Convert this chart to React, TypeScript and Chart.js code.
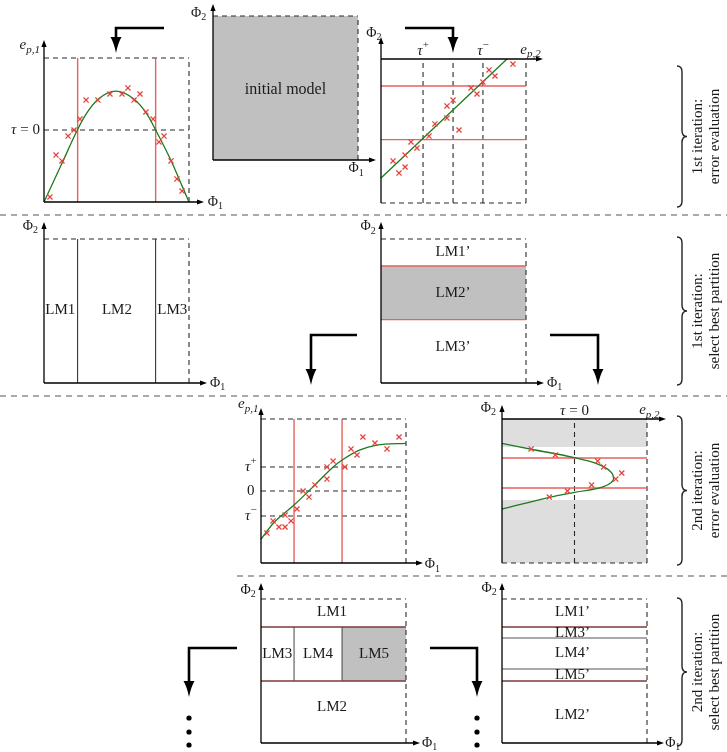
import React, { useEffect, useRef } from 'react';
import { Chart, registerables } from 'chart.js';
Chart.register(...registerables);

const W = 727, H = 752, BW = 145, BH = 144;
const SERIF = '"Liberation Serif", "DejaVu Serif", serif';
const RED_LINE = '#e8615c', RED_X = '#e5443d', GREEN = '#1f7a1f', BROWN = '#7d3a3a';
const GRAY_FILL = '#c0c0c0', BAND = '#dedede', DASH = '#2a2a2a', GRAY_LINE = '#8c8c8c';

// ---------- data ----------
// 1st iteration, error e_{p,1} over Φ1
const p1CrossX = [0.41, 0.83, 1.24, 1.66, 2.07, 2.48, 2.9, 3.72, 4.55, 5.38, 5.79, 6.21, 6.62, 7.03, 7.52, 7.93, 8.28, 8.76, 9.17, 9.52];
const p1CrossY = [0.35, 3.26, 2.85, 4.58, 5.0, 5.76, 7.08, 7.08, 7.5, 7.5, 7.92, 7.08, 7.5, 6.25, 5.76, 4.17, 4.58, 2.85, 1.6, 0.76];
const p1CurveX = [0, 1.2, 2.3, 2.9, 3.75, 4.95, 6.2, 7.1, 7.7, 8.75, 9.55, 10];
const p1CurveY = [0, 2.6, 5.0, 6.1, 7.15, 7.7, 7.15, 6.1, 5.0, 2.9, 1.05, 0];
const p1Tau = [5.0];
const firstSplitsPhi1 = [2.32, 7.7];

// 1st iteration, error e_{p,2} over Φ2
const p3CrossX = [0.83, 1.24, 1.66, 1.66, 2.07, 2.48, 3.31, 3.72, 4.55, 4.55, 4.97, 5.38, 6.21, 6.62, 7.03, 7.45, 7.86, 9.1];
const p3CrossY = [2.92, 2.08, 3.33, 2.5, 4.24, 3.82, 4.65, 5.49, 5.9, 6.74, 7.15, 5.07, 7.99, 7.57, 8.4, 9.24, 8.82, 9.65];
const p3FitX = [0, 8.69];
const p3FitY = [1.74, 10];
const p3TauX = [2.9, 4.97, 7.03];
const firstSplitsPhi2 = [4.4, 8.125];

// 2nd iteration, error e_{p,1}
const p6CrossX = [0.41, 0.83, 1.24, 1.66, 1.66, 2.07, 2.48, 2.9, 3.31, 3.72, 4.55, 4.55, 4.97, 5.79, 6.21, 6.62, 7.03, 7.86, 8.69, 9.52];
const p6CrossY = [2.08, 2.92, 2.5, 2.5, 3.33, 2.92, 3.75, 5.0, 4.58, 5.42, 5.83, 6.67, 7.08, 6.67, 7.92, 7.5, 8.75, 8.33, 7.92, 8.75];
const p6CurveX = [0, 0.85, 2.28, 3.72, 5.0, 5.6, 6.83, 7.98, 10];
const p6CurveY = [1.65, 2.76, 4.03, 5.42, 6.69, 7.15, 7.85, 8.19, 8.31];
const p6TauY = [6.67, 5.0, 3.26];
const secondSplitsPhi1 = [2.28, 5.59];

// 2nd iteration, error e_{p,2}
const p7CrossX = [2.01, 3.68, 6.6, 7.01, 7.85, 8.26, 6.18, 4.51, 3.26];
const p7CrossY = [7.92, 7.5, 7.08, 6.67, 5.83, 6.25, 5.42, 5.0, 4.58];
const p7CurveX = [0, 2.03, 5.0, 7.0, 7.7, 7.0, 5.0, 3.28, 0];
const p7CurveY = [8.31, 7.9, 7.31, 6.69, 5.88, 5.3, 4.91, 4.56, 3.75];
const p7BandY = [4.375, 8.06];
const secondSplitsPhi2 = [5.21, 7.29];
const p7TauX = [5.0];

// partitions, 2nd iteration
const p8Rows = [4.31, 8.06];
const p9Rows = [4.31, 8.06];
const p9SubRows = [5.14, 7.29];

// ---------- helpers ----------
type Seg = { s: string; i?: boolean; sub?: string; sup?: string };
type Label = { segs: Seg[]; x: number; y: number; align?: 'left' | 'center' | 'right'; size?: number };

function drawSegs(ctx: CanvasRenderingContext2D, segs: Seg[], x: number, y: number, align = 'center', size = 15) {
  const small = Math.round(size * 0.72);
  const pieces: { t: string; f: string; dy: number; w: number }[] = [];
  for (const g of segs) {
    const f = `${g.i ? 'italic ' : ''}${size}px ${SERIF}`;
    ctx.font = f;
    pieces.push({ t: g.s, f, dy: 0, w: ctx.measureText(g.s).width });
    if (g.sub) {
      const fs = `${g.i ? 'italic ' : ''}${small}px ${SERIF}`;
      ctx.font = fs;
      pieces.push({ t: g.sub, f: fs, dy: size * 0.32, w: ctx.measureText(g.sub).width + 1 });
    }
    if (g.sup) {
      const fs = `${small}px ${SERIF}`;
      ctx.font = fs;
      pieces.push({ t: g.sup, f: fs, dy: -size * 0.4, w: ctx.measureText(g.sup).width });
    }
  }
  const total = pieces.reduce((a, p) => a + p.w, 0);
  let cx = align === 'center' ? x - total / 2 : align === 'right' ? x - total : x;
  ctx.textBaseline = 'middle';
  ctx.textAlign = 'left';
  ctx.fillStyle = '#1a1a1a';
  for (const p of pieces) {
    ctx.font = p.f;
    ctx.fillText(p.t, cx, y + p.dy);
    cx += p.w;
  }
}

const pts = (xs: number[], ys: number[]) => xs.map((x, i) => ({ x, y: ys[i] }));
const seg = (xs: number[], ys: number[], color: string, width = 1, dash: number[] = [], order = 5) => ({
  data: pts(xs, ys), borderColor: color, borderWidth: width, borderDash: dash,
  pointRadius: 0, fill: false, tension: 0, order, clip: false,
});
const vlines = (xs: number[], y0: number, y1: number, color: string, width = 1, dash: number[] = []) =>
  xs.map((x) => seg([x, x], [y0, y1], color, width, dash));
const hlines = (ys: number[], x0: number, x1: number, color: string, width = 1, dash: number[] = []) =>
  ys.map((y) => seg([x0, x1], [y, y], color, width, dash));
const band = (x0: number, x1: number, y0: number, y1: number, color: string) => ({
  data: pts([x0, x1], [y1, y1]), fill: { value: y0 }, backgroundColor: color,
  borderWidth: 0, borderColor: 'rgba(0,0,0,0)', pointRadius: 0, order: 20, clip: false,
});
const crosses = (xs: number[], ys: number[]) => ({
  data: pts(xs, ys), showLine: false, pointStyle: 'crossRot', pointRadius: 3.6,
  pointBorderColor: RED_X, pointBorderWidth: 1.3, borderColor: RED_X, order: 0, clip: false,
});
const curve = (xs: number[], ys: number[], monotone = true) => ({
  data: pts(xs, ys), borderColor: GREEN, borderWidth: 1.3, tension: 0.4,
  cubicInterpolationMode: monotone ? 'monotone' : 'default',
  pointRadius: 0, fill: false, order: 1, clip: false,
});
const DASHES = [5, 4];
const boxTopRight = () => [
  ...hlines([10], 0, 10, DASH, 1.1, DASHES),
  ...vlines([10], 0, 10, DASH, 1.1, DASHES),
];
const boxBottomRight = () => [
  ...hlines([0], 0, 10, DASH, 1.1, DASHES),
  ...vlines([10], 0, 10, DASH, 1.1, DASHES),
];

const PHI1: Seg[] = [{ s: 'Φ', sub: '1' }];
const PHI2: Seg[] = [{ s: 'Φ', sub: '2' }];
const EP1: Seg[] = [{ s: 'e', i: true, sub: 'p,1' }];
const EP2: Seg[] = [{ s: 'e', i: true, sub: 'p,2' }];
const TAU0: Seg[] = [{ s: 'τ', i: true }, { s: ' = 0' }];
const TAUP: Seg[] = [{ s: 'τ', i: true, sup: '+' }];
const TAUM: Seg[] = [{ s: 'τ', i: true, sup: '−' }];
const txt = (s: string): Seg[] => [{ s }];

type PanelSpec = {
  left: number; top: number; xAxisAt: number; yExt: number; xExt: number;
  datasets: any[]; labels: Label[];
};

function arrowHead(ctx: CanvasRenderingContext2D, x: number, y: number, dir: 'up' | 'right' | 'down', len: number, hw: number) {
  ctx.beginPath();
  if (dir === 'up') { ctx.moveTo(x, y); ctx.lineTo(x - hw, y + len); ctx.lineTo(x + hw, y + len); }
  else if (dir === 'down') { ctx.moveTo(x, y); ctx.lineTo(x - hw, y - len); ctx.lineTo(x + hw, y - len); }
  else { ctx.moveTo(x, y); ctx.lineTo(x - len, y - hw); ctx.lineTo(x - len, y + hw); }
  ctx.closePath();
  ctx.fill();
}

const panelPlugin = (spec: PanelSpec) => ({
  id: 'panelDecor',
  afterDatasetsDraw(chart: any) {
    const { ctx, scales: { x, y } } = chart;
    ctx.save();
    ctx.strokeStyle = '#000'; ctx.fillStyle = '#000'; ctx.lineWidth = 1.3; ctx.setLineDash([]);
    const x0 = x.getPixelForValue(0), xr = x.getPixelForValue(10);
    const yb = y.getPixelForValue(0), yt = y.getPixelForValue(10);
    const ya = y.getPixelForValue(spec.xAxisAt);
    const yTip = yt - spec.yExt, xTip = xr + spec.xExt;
    ctx.beginPath(); ctx.moveTo(x0, yb); ctx.lineTo(x0, yTip + 4); ctx.stroke();
    arrowHead(ctx, x0, yTip, 'up', 7, 2.6);
    ctx.beginPath(); ctx.moveTo(x0, ya); ctx.lineTo(xTip - 4, ya); ctx.stroke();
    arrowHead(ctx, xTip, ya, 'right', 7, 2.6);
    for (const l of spec.labels) {
      drawSegs(ctx, l.segs, x.getPixelForValue(l.x), y.getPixelForValue(l.y), l.align || 'center', l.size || 15);
    }
    ctx.restore();
  },
});

const PANELS: PanelSpec[] = [
  { // 1st iteration error e_{p,1}
    left: 44, top: 58, xAxisAt: 0, yExt: 18, xExt: 15,
    datasets: [
      crosses(p1CrossX, p1CrossY), curve(p1CurveX, p1CurveY),
      ...vlines(firstSplitsPhi1, 0, 10, RED_LINE, 1.4),
      ...hlines(p1Tau, 0, 10, DASH, 1.1, DASHES), ...boxTopRight(),
    ],
    labels: [
      { segs: EP1, x: -0.95, y: 10.9 }, { segs: TAU0, x: -0.28, y: 5.0, align: 'right' },
      { segs: PHI1, x: 11.3, y: 0, align: 'left', size: 14 },
    ],
  },
  { // initial model
    left: 213, top: 16, xAxisAt: 0, yExt: 12, xExt: 18,
    datasets: [band(0, 10, 0, 10, GRAY_FILL), ...boxTopRight()],
    labels: [
      { segs: PHI2, x: -0.95, y: 10.2, size: 14 }, { segs: PHI1, x: 9.9, y: -0.6, size: 14 },
      { segs: txt('initial model'), x: 5.0, y: 4.86, size: 16 },
    ],
  },
  { // 1st iteration error e_{p,2}
    left: 381, top: 59, xAxisAt: 10, yExt: 22, xExt: 17,
    datasets: [
      crosses(p3CrossX, p3CrossY), curve(p3FitX, p3FitY),
      ...hlines(firstSplitsPhi2, 0, 10, RED_LINE, 1.4),
      ...vlines(p3TauX, 0, 10, DASH, 1.1, DASHES), ...boxBottomRight(),
    ],
    labels: [
      { segs: PHI2, x: -0.45, y: 11.8, size: 14 }, { segs: TAUP, x: 2.9, y: 10.55 },
      { segs: TAUM, x: 7.03, y: 10.55 }, { segs: EP2, x: 10.35, y: 10.65 },
    ],
  },
  { // LM1..LM3
    left: 44, top: 239, xAxisAt: 0, yExt: 17, xExt: 18,
    datasets: [...vlines(firstSplitsPhi1, 0, 10, '#222', 1), ...boxTopRight()],
    labels: [
      { segs: PHI2, x: -0.9, y: 10.9, size: 14 }, { segs: PHI1, x: 11.45, y: 0, align: 'left', size: 14 },
      { segs: txt('LM1'), x: 1.12, y: 5.07 }, { segs: txt('LM2'), x: 5.03, y: 5.07 }, { segs: txt('LM3'), x: 8.85, y: 5.07 },
    ],
  },
  { // LM1'..LM3'
    left: 381, top: 239, xAxisAt: 0, yExt: 17, xExt: 18,
    datasets: [
      band(0, 10, firstSplitsPhi2[0], firstSplitsPhi2[1], GRAY_FILL),
      ...hlines(firstSplitsPhi2, 0, 10, RED_LINE, 1.4), ...boxTopRight(),
    ],
    labels: [
      { segs: PHI2, x: -0.85, y: 10.85, size: 14 }, { segs: PHI1, x: 11.45, y: 0, align: 'left', size: 14 },
      { segs: txt('LM1’'), x: 4.97, y: 9.1 }, { segs: txt('LM2’'), x: 4.97, y: 6.25 }, { segs: txt('LM3’'), x: 4.97, y: 2.5 },
    ],
  },
  { // 2nd iteration error e_{p,1}
    left: 261, top: 419, xAxisAt: 0, yExt: 11, xExt: 17,
    datasets: [
      crosses(p6CrossX, p6CrossY), curve(p6CurveX, p6CurveY),
      ...vlines(secondSplitsPhi1, 0, 10, RED_LINE, 1.4),
      ...hlines(p6TauY, 0, 10, DASH, 1.1, DASHES), ...boxTopRight(),
    ],
    labels: [
      { segs: EP1, x: -0.85, y: 11.05 }, { segs: TAUP, x: -0.7, y: 6.67 },
      { segs: txt('0'), x: -0.7, y: 5.0 }, { segs: TAUM, x: -0.7, y: 3.26 },
      { segs: PHI1, x: 11.3, y: -0.1, align: 'left', size: 14 },
    ],
  },
  { // 2nd iteration error e_{p,2}
    left: 502, top: 419, xAxisAt: 10, yExt: 14, xExt: 19,
    datasets: [
      crosses(p7CrossX, p7CrossY), curve(p7CurveX, p7CurveY, false),
      ...hlines(secondSplitsPhi2, 0, 10, RED_LINE, 1.4),
      ...vlines(p7TauX, 0, 10, DASH, 1.1, DASHES), ...boxBottomRight(),
      band(0, 10, p7BandY[1], 10, BAND), band(0, 10, 0, p7BandY[0], BAND),
    ],
    labels: [
      { segs: PHI2, x: -0.9, y: 10.75, size: 14 }, { segs: TAU0, x: 5.0, y: 10.55 },
      { segs: EP2, x: 10.2, y: 10.6 },
    ],
  },
  { // LM1..LM5
    left: 261, top: 599, xAxisAt: 0, yExt: 16, xExt: 14,
    datasets: [
      band(secondSplitsPhi1[1], 10, p8Rows[0], p8Rows[1], GRAY_FILL),
      ...hlines(p8Rows, 0, 10, BROWN, 1.5),
      ...vlines(secondSplitsPhi1, p8Rows[0], p8Rows[1], '#444', 1), ...boxTopRight(),
    ],
    labels: [
      { segs: PHI2, x: -0.85, y: 10.6, size: 14 }, { segs: PHI1, x: 11.1, y: 0, align: 'left', size: 14 },
      { segs: txt('LM1'), x: 4.9, y: 9.1 }, { segs: txt('LM3'), x: 1.12, y: 6.18 },
      { segs: txt('LM4'), x: 3.93, y: 6.18 }, { segs: txt('LM5'), x: 7.8, y: 6.18 },
      { segs: txt('LM2'), x: 4.9, y: 2.5 },
    ],
  },
  { // LM1'..LM5'
    left: 502, top: 599, xAxisAt: 0, yExt: 16, xExt: 17,
    datasets: [
      ...hlines(p9Rows, 0, 10, BROWN, 1.5), ...hlines(p9SubRows, 0, 10, GRAY_LINE, 1.5), ...boxTopRight(),
    ],
    labels: [
      { segs: PHI2, x: -0.85, y: 10.75, size: 14 }, { segs: PHI1, x: 11.25, y: 0, align: 'left', size: 14 },
      { segs: txt('LM1’'), x: 4.86, y: 9.1 }, { segs: txt('LM3’'), x: 4.86, y: 7.64 },
      { segs: txt('LM4’'), x: 4.86, y: 6.25 }, { segs: txt('LM5’'), x: 4.86, y: 4.72 },
      { segs: txt('LM2’'), x: 4.86, y: 1.94 },
    ],
  },
];

// ---------- frame decorations (layout) ----------
const SEPARATORS: [number, number, number][] = [[0, 727, 215], [0, 727, 396], [237, 727, 576]];
const BIG_ARROWS = [
  { from: 164, corner: 116, y: 28, tip: 53 },
  { from: 405, corner: 453, y: 28, tip: 53 },
  { from: 357, corner: 311, y: 335, tip: 385 },
  { from: 550, corner: 598, y: 335, tip: 385 },
  { from: 237, corner: 189, y: 648, tip: 697 },
  { from: 430, corner: 477, y: 648, tip: 697 },
];
const DOT_COLUMNS = [189, 477];
const DOT_ROWS = [718, 732, 745];
const BRACES = [
  { top: 66, bottom: 207, lines: ['1st iteration:', 'error evaluation'] },
  { top: 237, bottom: 385, lines: ['1st iteration:', 'select best partition'] },
  { top: 416, bottom: 565, lines: ['2nd iteration:', 'error evaluation'] },
  { top: 598, bottom: 746, lines: ['2nd iteration:', 'select best partition'] },
];

const framePlugin = {
  id: 'frame',
  afterDraw(chart: any) {
    const ctx: CanvasRenderingContext2D = chart.ctx;
    ctx.save();
    ctx.strokeStyle = '#555'; ctx.lineWidth = 1.2; ctx.setLineDash([6, 5]);
    for (const [a, b, y] of SEPARATORS) { ctx.beginPath(); ctx.moveTo(a, y); ctx.lineTo(b, y); ctx.stroke(); }
    ctx.setLineDash([]);
    ctx.strokeStyle = '#000'; ctx.fillStyle = '#000'; ctx.lineWidth = 2.6;
    for (const a of BIG_ARROWS) {
      ctx.beginPath(); ctx.moveTo(a.from, a.y); ctx.lineTo(a.corner, a.y); ctx.lineTo(a.corner, a.tip - 12); ctx.stroke();
      ctx.beginPath();
      ctx.moveTo(a.corner, a.tip);
      ctx.quadraticCurveTo(a.corner - 2, a.tip - 10, a.corner - 5.5, a.tip - 16);
      ctx.lineTo(a.corner + 5.5, a.tip - 16);
      ctx.quadraticCurveTo(a.corner + 2, a.tip - 10, a.corner, a.tip);
      ctx.fill();
    }
    for (const cx of DOT_COLUMNS) for (const cy of DOT_ROWS) {
      ctx.beginPath(); ctx.arc(cx, cy, 2.6, 0, Math.PI * 2); ctx.fill();
    }
    ctx.lineWidth = 1.4; ctx.strokeStyle = '#222';
    for (const b of BRACES) {
      const xl = 677, xs = 682, xt = 687, mid = (b.top + b.bottom) / 2;
      ctx.beginPath();
      ctx.moveTo(xl, b.top);
      ctx.quadraticCurveTo(xs, b.top, xs, b.top + 6);
      ctx.lineTo(xs, mid - 6);
      ctx.quadraticCurveTo(xs, mid, xt, mid);
      ctx.quadraticCurveTo(xs, mid, xs, mid + 6);
      ctx.lineTo(xs, b.bottom - 6);
      ctx.quadraticCurveTo(xs, b.bottom, xl, b.bottom);
      ctx.stroke();
      ctx.save();
      ctx.translate(698, mid);
      ctx.rotate(-Math.PI / 2);
      ctx.fillStyle = '#1a1a1a';
      ctx.font = `15px ${SERIF}`;
      ctx.textAlign = 'center'; ctx.textBaseline = 'middle';
      ctx.fillText(b.lines[0], 0, 0);
      ctx.fillText(b.lines[1], 0, 17);
      ctx.restore();
    }
    ctx.restore();
  },
};

function makePanel(canvas: HTMLCanvasElement, spec: PanelSpec) {
  return new Chart(canvas, {
    type: 'line',
    data: { datasets: spec.datasets },
    options: {
      responsive: false, animation: false, events: [],
      layout: { padding: { left: spec.left, top: spec.top, right: W - spec.left - BW, bottom: H - spec.top - BH } },
      scales: {
        x: { type: 'linear', min: 0, max: 10, display: false },
        y: { type: 'linear', min: 0, max: 10, display: false },
      },
      plugins: { legend: { display: false }, tooltip: { enabled: false } },
    },
    plugins: [panelPlugin(spec)],
  } as any);
}

function makeFrame(canvas: HTMLCanvasElement) {
  return new Chart(canvas, {
    type: 'line',
    data: { datasets: [] },
    options: {
      responsive: false, animation: false, events: [],
      scales: { x: { type: 'linear', display: false }, y: { type: 'linear', display: false } },
      plugins: { legend: { display: false }, tooltip: { enabled: false } },
    },
    plugins: [framePlugin],
  } as any);
}

function ChartCanvas({ make }: { make: (c: HTMLCanvasElement) => Chart }) {
  const ref = useRef<HTMLCanvasElement>(null);
  useEffect(() => {
    const ch = make(ref.current as HTMLCanvasElement);
    return () => ch.destroy();
  }, []);
  return <canvas ref={ref} width={W} height={H} style={{ position: 'absolute', left: 0, top: 0, width: W, height: H }} />;
}

export default function App() {
  return (
    <div style={{ position: 'absolute', left: 0, top: 0, width: W, height: H, background: '#fff', overflow: 'hidden' }}>
      <ChartCanvas make={makeFrame} />
      {PANELS.map((p, i) => (
        <ChartCanvas key={i} make={(c) => makePanel(c, p)} />
      ))}
    </div>
  );
}
